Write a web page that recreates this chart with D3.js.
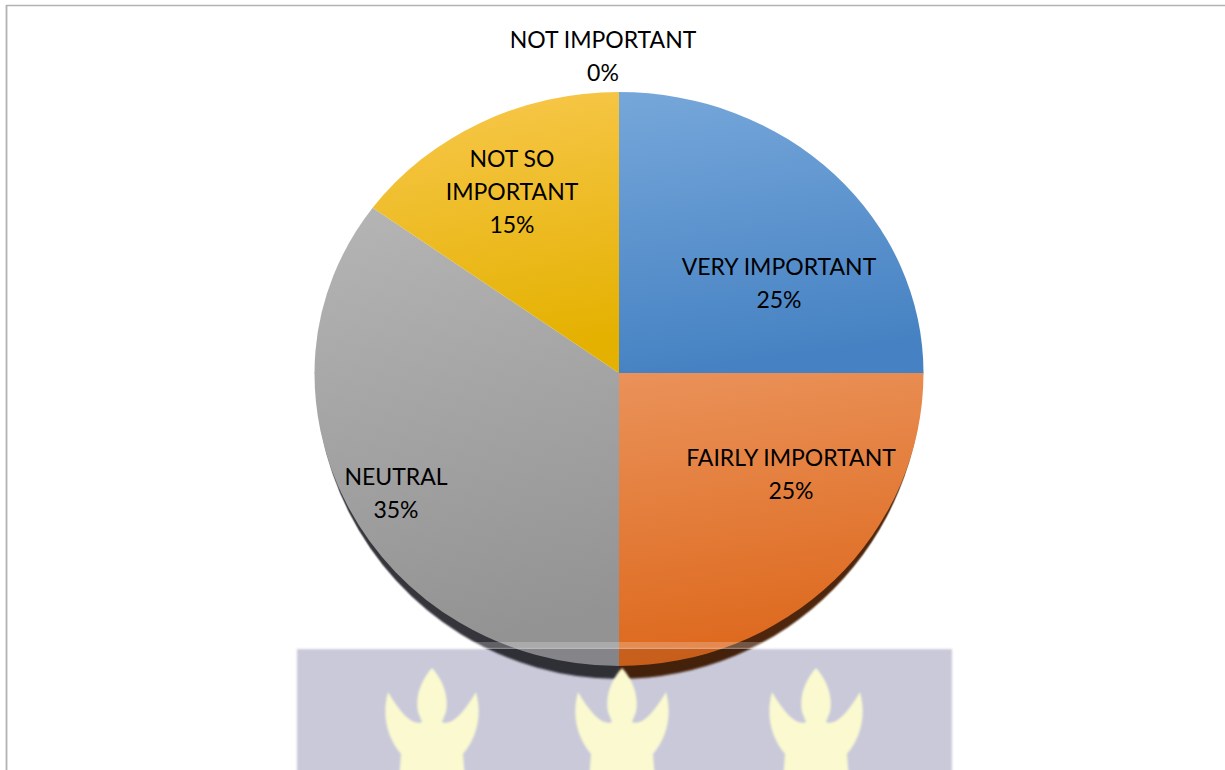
<!DOCTYPE html>
<html>
<head>
<meta charset="utf-8">
<script src="https://cdn.jsdelivr.net/npm/d3@7"></script>
<style>
  html, body { margin: 0; padding: 0; background: #ffffff; }
  svg { display: block; }
</style>
</head>
<body>
<svg id="chart" width="1225" height="770"></svg>
<script>
// ---- data ----
const categories = ["VERY IMPORTANT", "FAIRLY IMPORTANT", "NEUTRAL", "NOT SO IMPORTANT", "NOT IMPORTANT"];
const values = [25, 25, 35, 15, 0];
const labelLines = [["VERY IMPORTANT"], ["FAIRLY IMPORTANT"], ["NEUTRAL"], ["NOT SO", "IMPORTANT"], ["NOT IMPORTANT"]];

// ---- styles ----
const topColors = ["#76a7da", "#ea925a", "#b5b5b5", "#f8c84e", "#a5a5a5"];
const bottomColors = ["#4682c3", "#dd681c", "#939393", "#e4b100", "#a5a5a5"];
const rimColors = ["#233f60", "#4e2608", "#34343a", "#5a4500", "#333333"];
// label block centres, offset from the pie centre in pixels
const labelOffsets = [[160, -91], [172, 100], [-223, 119], [-107, -182], [-16, -318]];

const width = 1225, height = 770;
const cx = 619, cy = 373;
const radius = 304.5;
const scaleTop = 281 / radius;     // upper half of the tilted disc
const scaleBottom = 293 / radius;  // lower half (nearer the viewer)
const scaleRim = 306 / radius;     // dark rim under the lower edge
const lineGap = 33;

// emblem band along the bottom edge
const bandX = 297, bandY = 649, bandW = 655, bandH = 130;

const svg = d3.select("#chart");
const defs = svg.append("defs");

// frame lines
svg.append("line").attr("x1", 6).attr("x2", width).attr("y1", 5.5).attr("y2", 5.5)
  .attr("stroke", "#b2b2b2").attr("stroke-width", 1.6);
svg.append("line").attr("x1", 6.5).attr("x2", 6.5).attr("y1", 5).attr("y2", height)
  .attr("stroke", "#b2b2b2").attr("stroke-width", 1.8);

// gradients for each slice
categories.forEach((c, i) => {
  const g = defs.append("linearGradient").attr("id", "grad" + i)
    .attr("x1", 0).attr("y1", 0).attr("x2", 0.15).attr("y2", 1);
  g.append("stop").attr("offset", "0%").attr("stop-color", topColors[i]);
  g.append("stop").attr("offset", "100%").attr("stop-color", bottomColors[i]);
});

defs.append("clipPath").attr("id", "clipTop")
  .append("rect").attr("x", -500).attr("y", -500).attr("width", 1000).attr("height", 500.6);
defs.append("clipPath").attr("id", "clipBottom")
  .append("rect").attr("x", -500).attr("y", -0.6).attr("width", 1000).attr("height", 500);
defs.append("clipPath").attr("id", "clipBand")
  .append("rect").attr("x", bandX).attr("y", bandY).attr("width", bandW).attr("height", bandH);

const blur = defs.append("filter").attr("id", "soft").attr("x", "-5%").attr("y", "-5%")
  .attr("width", "110%").attr("height", "110%");
blur.append("feGaussianBlur").attr("stdDeviation", 0.8);

// tint used where the band lies over the pie (band colour multiplied in)
defs.append("filter").attr("id", "tint")
  .append("feColorMatrix").attr("type", "matrix")
  .attr("values", "0.79 0 0 0 0  0 0.79 0 0 0  0 0 0.855 0 0  0 0 0 1 0");

const pie = d3.pie().sort(null).value(d => d);
const arcs = pie(values);
const arc = d3.arc().innerRadius(0).outerRadius(radius);

function drawPie(parent) {
  // dark rim below the lower half
  parent.append("g")
    .attr("transform", `translate(${cx},${cy}) scale(0.996,${scaleRim})`)
    .attr("clip-path", "url(#clipBottom)")
    .attr("filter", "url(#soft)")
    .selectAll("path").data(arcs).join("path")
    .attr("d", arc)
    .attr("fill", (d, i) => rimColors[i]);

  // pie face: upper and lower halves
  [["clipTop", scaleTop], ["clipBottom", scaleBottom]].forEach(([clip, k]) => {
    parent.append("g")
      .attr("transform", `translate(${cx},${cy}) scale(1,${k})`)
      .attr("clip-path", `url(#${clip})`)
      .selectAll("path").data(arcs).join("path")
      .attr("d", arc)
      .attr("fill", (d, i) => `url(#grad${i})`);
  });
}

drawPie(svg.append("g"));

// data labels
const labels = svg.append("g")
  .attr("font-family", "Lato, 'Open Sans', sans-serif")
  .attr("font-size", 23)
  .attr("fill", "#000000")
  .attr("text-anchor", "middle");

arcs.forEach((a, i) => {
  const lines = labelLines[i].concat([d3.format(".0%")(a.value / d3.sum(values))]);
  const [ox, oy] = labelOffsets[i];
  const t = labels.append("text")
    .attr("x", cx + ox)
    .attr("y", cy + oy - (lines.length - 1) * lineGap / 2)
    .attr("dominant-baseline", "central");
  lines.forEach((ln, j) => {
    t.append("tspan").attr("x", cx + ox).attr("dy", j === 0 ? 0 : lineGap).text(ln);
  });
});

// band: plain fill, then the pie seen through it, tinted
const band = svg.append("g");
band.append("rect")
  .attr("x", bandX).attr("y", bandY).attr("width", bandW).attr("height", bandH)
  .attr("fill", "#c9c9da")
  .attr("filter", "url(#soft)");
const through = band.append("g").attr("clip-path", "url(#clipBand)")
  .append("g").attr("filter", "url(#tint)");
drawPie(through);
band.append("rect")
  .attr("x", bandX).attr("y", bandY - 7).attr("width", bandW).attr("height", 7)
  .attr("fill", "#ffffff").attr("opacity", 0.22);

const flame = "M0,0 C11,12 17,28 14,44 L10,54 C18,58 30,48 44,24 C50,46 46,68 31,86 L33,112 L-33,112 L-31,86 C-46,68 -50,46 -44,24 C-30,48 -18,58 -10,54 L-14,44 C-17,28 -11,12 0,0 Z";
[432, 622, 816].forEach(x => {
  band.append("path")
    .attr("d", flame)
    .attr("transform", `translate(${x},668)`)
    .attr("fill", "#fbf9cf")
    .attr("filter", "url(#soft)");
});
</script>
</body>
</html>
